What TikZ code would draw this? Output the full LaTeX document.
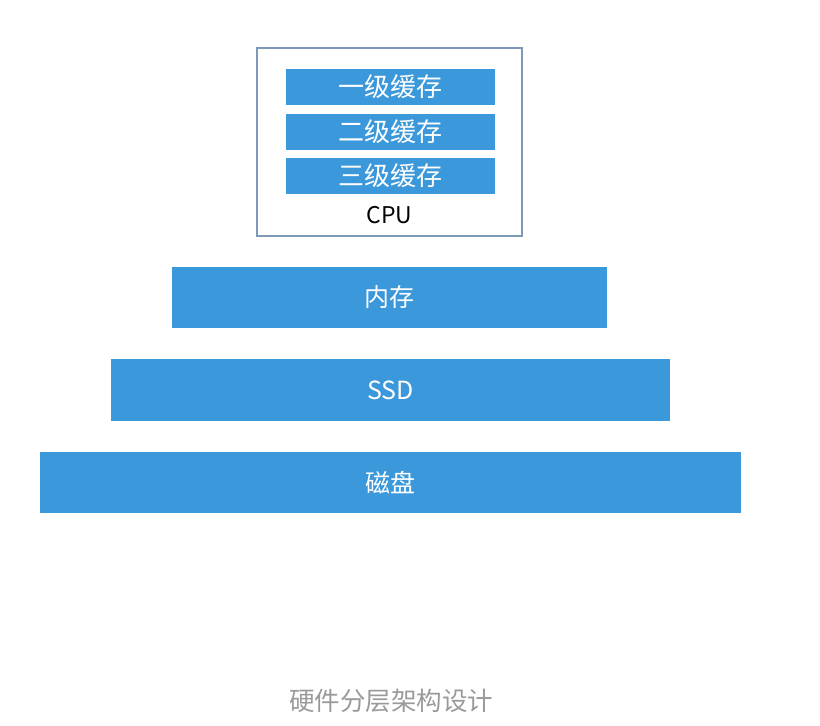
\documentclass[tikz,border=0pt]{standalone}
\usepackage{fontspec}
\setmainfont{Noto Sans CJK SC}
\definecolor{layerblue}{HTML}{3A98DB}
\definecolor{cpuedge}{HTML}{7E98B8}
\definecolor{captiongray}{HTML}{9A9A9A}
\begin{document}
\begin{tikzpicture}[x=1pt,y=-1pt,
  layer/.style={fill=layerblue,draw=none,text=white,font=\fontsize{25}{29}\selectfont},
  cachebox/.style={fill=layerblue,draw=none,text=white,font=\fontsize{26}{30}\selectfont},
]
\useasboundingbox (0,0) rectangle (820,726);
\draw[cpuedge,line width=1.2pt] (257,48) rectangle (522,236);
\node[cachebox,minimum width=209pt,minimum height=36pt] (l1) at (390.5,87) {一级缓存};
\node[cachebox,minimum width=209pt,minimum height=36pt] (l2) at (390.5,132) {二级缓存};
\node[cachebox,minimum width=209pt,minimum height=36pt] (l3) at (390.5,176) {三级缓存};
\node[font=\fontsize{23}{27}\selectfont] (cpu) at (389.5,215) {CPU};
\node[layer,minimum width=435pt,minimum height=61pt] (mem) at (389.5,297.5) {内存};
\node[layer,minimum width=559pt,minimum height=62pt] (ssd) at (390.5,390) {SSD};
\node[layer,minimum width=701pt,minimum height=61pt] (disk) at (390.5,482.5) {磁盘};
\node[text=captiongray,font=\fontsize{25.5}{29}\selectfont] (cap) at (391,701) {硬件分层架构设计};
\end{tikzpicture}
\end{document}
